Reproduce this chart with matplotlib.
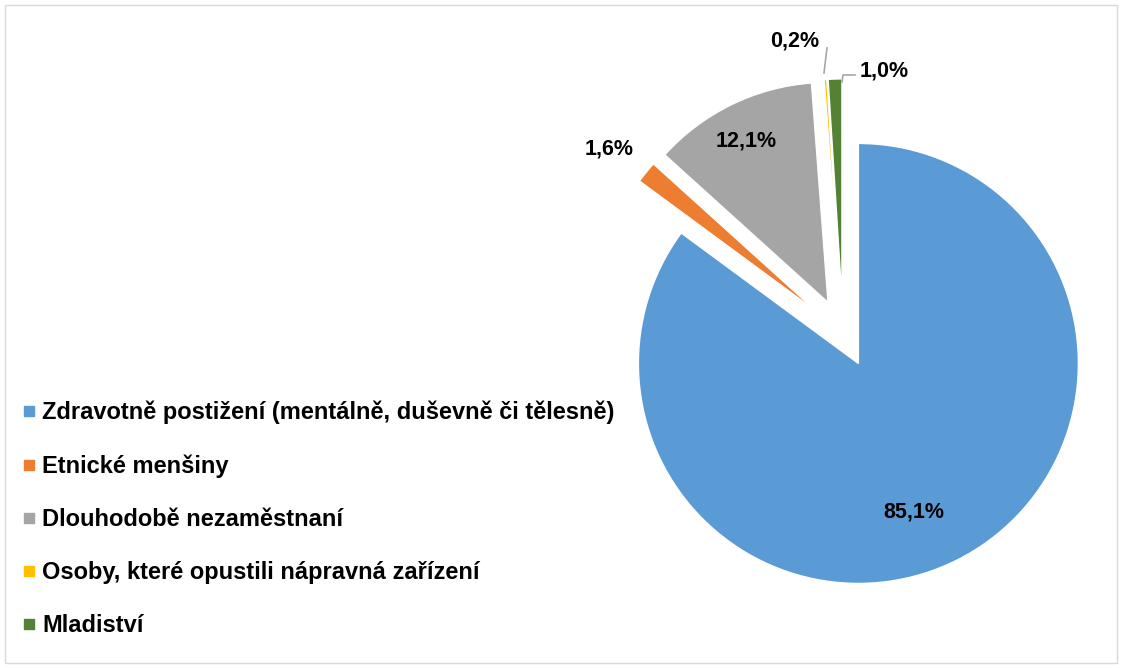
import matplotlib
matplotlib.use("Agg")
import matplotlib.pyplot as plt
from matplotlib.lines import Line2D
from matplotlib.patches import Rectangle

# Data
kategorie = [
    "Zdravotně postižení (mentálně, duševně či tělesně)",
    "Etnické menšiny",
    "Dlouhodobě nezaměstnaní",
    "Osoby, které opustili nápravná zařízení",
    "Mladiství",
]
podily = [85.1, 1.6, 12.1, 0.2, 1.0]
popisky = ["85,1%", "1,6%", "12,1%", "0,2%", "1,0%"]
barvy = ["#5B9BD5", "#ED7D31", "#A5A5A5", "#FFC000", "#548235"]

plt.rcParams["font.family"] = ["Liberation Sans", "DejaVu Sans"]
plt.rcParams["font.weight"] = "bold"

W, H, DPI = 1122, 668, 100
fig = plt.figure(figsize=(W / DPI, H / DPI), dpi=DPI)

# stred kolace a polomer v pixelech
cx, cy, R = 843, 333, 220
ax = fig.add_axes([0, 0, 1, 1])
ax.pie(podily, colors=barvy, startangle=90, counterclock=False,
       explode=[0.155] * len(podily),
       wedgeprops=dict(edgecolor="white", linewidth=1))
ax.set_aspect("auto")
ax.set_xlim(-cx / R, (W - cx) / R)
ax.set_ylim(-(H - cy) / R, cy / R)
ax.axis("off")

def px(x, y):
    return (x - cx) / R, (cy - y) / R

# popisky (pozice v pixelech obrazku)
pozice = [(914, 512), (609, 149), (746, 141), (795, 41), (884, 71)]
for (x, y), txt in zip(pozice, popisky):
    ax.text(*px(x, y), txt, ha="center", va="center", fontsize=15.5,
            fontweight="bold", color="black")

# vodici cary pro male vysece
lx, ly = zip(px(827, 48), px(824, 73))
ax.add_line(Line2D(lx, ly, color="#A6A6A6", lw=1.2))
lx, ly = zip(px(842, 82), px(843, 75), px(855, 75))
ax.add_line(Line2D(lx, ly, color="#A6A6A6", lw=1.2))

# legenda
handles = [Line2D([], [], marker="s", color=c, ls="", markersize=7.5) for c in barvy]
leg = fig.legend(handles, kategorie, loc="upper left", bbox_to_anchor=(1 / W, 1 - 379.5 / H),
                 frameon=False, handlelength=0.6, handletextpad=0.25,
                 labelspacing=1.275, prop=dict(weight="bold", size=17))

# ramecek grafu
fig.patches.append(Rectangle((5 / W, 5 / H), (W - 10) / W, (H - 10) / H,
                             transform=fig.transFigure, fill=False,
                             edgecolor="#D9D9D9", lw=1))

fig.savefig("out.png", dpi=DPI)
